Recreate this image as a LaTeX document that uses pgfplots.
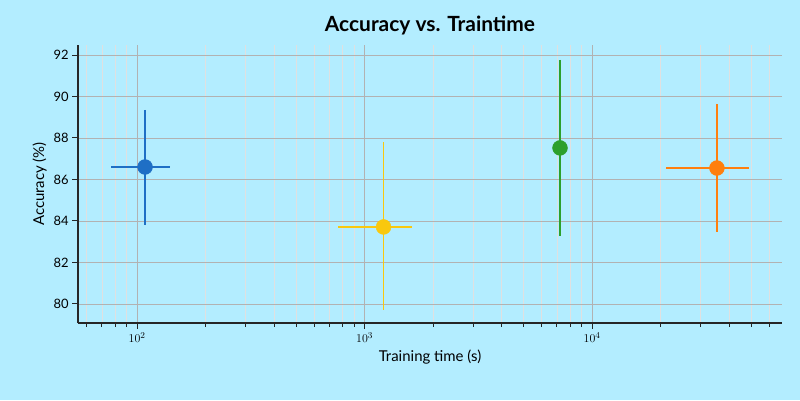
\documentclass[border=0pt]{standalone}
\usepackage{pgfplots}
\pgfplotsset{compat=1.18}
\usepackage{fontspec}
\setmainfont{Lato}
\definecolor{bg}{HTML}{B3EDFF}
\definecolor{cb}{HTML}{1F6FC5}
\definecolor{cy}{HTML}{F9C80E}
\definecolor{cg}{HTML}{2CA02C}
\definecolor{co}{HTML}{FF7F0E}
\begin{document}
\begin{tikzpicture}[x=1bp,y=1bp]
\fill[bg] (0,0) rectangle (800,400);
\begin{axis}[at={(78bp,77bp)},anchor=south west,
 scale only axis,width=704bp,height=278bp,
 xmode=log,xmin=55,xmax=68400,ymin=79.08,ymax=92.48,
 axis lines*=left,axis line style={line width=1.2pt,black!85},
 ytick={80,82,...,92},
 xmajorgrids=true,xminorgrids=true,ymajorgrids=true,
 major grid style={draw=black!30,line width=0.8pt},
 minor grid style={draw=black!12,line width=0.6pt},
 xlabel={Training time (s)},ylabel={Accuracy (\%)},
 title={\bfseries Accuracy vs. Traintime},
 title style={font=\fontsize{21}{24}\selectfont,yshift=0pt},
 tick label style={font=\fontsize{13}{15}\selectfont},
 label style={font=\fontsize{15}{18}\selectfont},
 /pgf/number format/assume math mode=true,
 tick align=outside,major tick length=6pt,minor tick length=4pt,
 tick style={black!85,line width=0.9pt},
 every axis plot/.append style={error bars/error mark=none}]
\addplot[only marks,mark=*,mark size=7.5pt,draw=cb,fill=cb,
 error bars/.cd,x dir=both,x explicit,y dir=both,y explicit,error bar style={draw=cb,line width=1.5pt}]
 coordinates {(108.4,86.6) += (31.3,2.75) -= (31.5,2.8)};
\addplot[only marks,mark=*,mark size=7.5pt,draw=cy,fill=cy,
 error bars/.cd,x dir=both,x explicit,y dir=both,y explicit,error bar style={draw=cy,line width=1.5pt}]
 coordinates {(1212,83.71) += (406,4.09) -= (446,4.0)};
\addplot[only marks,mark=*,mark size=7.5pt,draw=cg,fill=cg,
 error bars/.cd,y dir=both,y explicit,error bar style={draw=cg,line width=1.5pt}]
 coordinates {(7230,87.52) += (0,4.24) -= (0,4.24)};
\addplot[only marks,mark=*,mark size=7.5pt,draw=co,fill=co,
 error bars/.cd,x dir=both,x explicit,y dir=both,y explicit,error bar style={draw=co,line width=1.5pt}]
 coordinates {(35400,86.55) += (13600,3.09) -= (14300,3.08)};
\end{axis}
\end{tikzpicture}
\end{document}
